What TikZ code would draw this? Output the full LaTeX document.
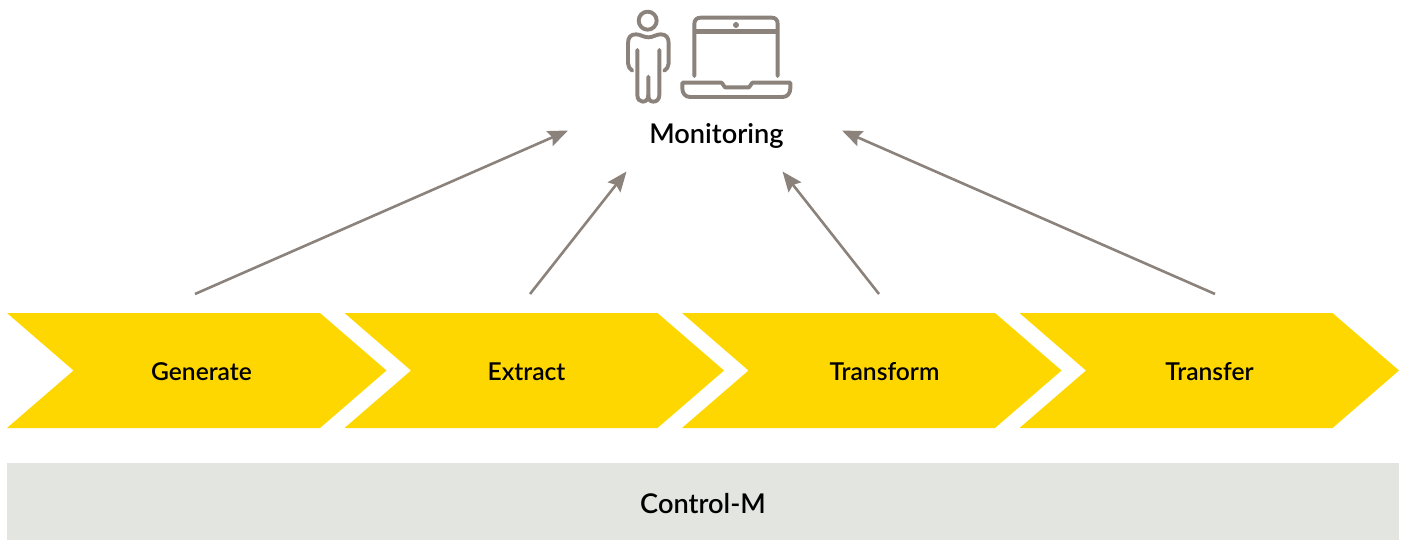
\documentclass[tikz,border=0pt]{standalone}
\usepackage{fontspec}
\setmainfont{Lato Semibold}
\usetikzlibrary{arrows.meta}
\definecolor{cyellow}{HTML}{FFD700}
\definecolor{cgrey}{HTML}{E3E5E0}
\definecolor{cline}{HTML}{8B827B}
\tikzset{
  chev/.style={fill=cyellow,draw=none},
  lab/.style={font=\fontsize{24.6}{28}\selectfont,text=black,inner sep=0pt},
  mainlab/.style={font=\fontsize{27.2}{31}\selectfont,text=black,inner sep=0pt},
  conn/.style={draw=cline,line width=2.6pt,-{Stealth[length=20pt,width=16pt,inset=3pt]}},
  icon/.style={draw=cline,line width=3.9pt,line cap=round,line join=round},
}
\begin{document}
\begin{tikzpicture}[x=1pt,y=-1pt]
\useasboundingbox (0,0) rectangle (1405,540);
% band
\fill[cgrey] (7,463) rectangle (1399,540);
\node[mainlab] (ctrl) at (703,503.5) {Control-M};
% chevrons
\foreach \n/\dx/\t/\tx in {gen/0/Generate/201.5,ext/337.5/Extract/526.5,tra/675/Transform/884.5,trf/1012.5/Transfer/1209.5}{
  \fill[chev] ({7+\dx},313) -- ({320+\dx},313) -- ({386.5+\dx},370.5) -- ({320+\dx},428) -- ({7+\dx},428) -- ({73.5+\dx},370.5) -- cycle;
  \node[lab] (\n) at (\tx,371.5) {\t};
}
% connector ends
\coordinate (s1) at (195,294);
\coordinate (e1) at (568,130.5);
\coordinate (s2) at (530,294);
\coordinate (e2) at (626.5,171.5);
\coordinate (s3) at (879,294);
\coordinate (e3) at (782.5,171.5);
\coordinate (s4) at (1215,294);
\coordinate (e4) at (842,130.5);
\draw[conn] (s1) -- (e1);
\draw[conn] (s2) -- (e2);
\draw[conn] (s3) -- (e3);
\draw[conn] (s4) -- (e4);
\node[mainlab] (mon) at (716.5,136) {Monitoring};
% icons
\begin{scope}[shift={(600,0)},x=0.3333pt,y=-0.3333pt]
  % person
  \draw[icon] (143,62) circle (27);
  \draw[icon] (112,150) -- (112,285) .. controls (112,298) and (120,305) .. (128,305) .. controls (138,305) and (145,298) .. (145,285) -- (145,230);
  \draw[icon] (178,150) -- (178,285) .. controls (178,298) and (170,305) .. (160,305) .. controls (150,305) and (145,298) .. (145,285);
  \draw[icon] (97,212) .. controls (90,208) and (84,200) .. (84,190) -- (84,130) .. controls (84,112) and (92,103) .. (108,103) .. controls (122,103) and (130,112) .. (145,112) .. controls (160,112) and (168,103) .. (182,103) .. controls (198,103) and (206,112) .. (206,130) -- (206,190) .. controls (206,200) and (200,208) .. (193,212);
  % laptop
  \draw[icon] (283,228) -- (283,72) .. controls (283,60) and (290,53) .. (302,53) -- (515,53) .. controls (527,53) and (533,60) .. (533,72) -- (533,228);
  \draw[icon,line width=5pt,line cap=butt] (283,96) -- (533,96);
  \fill[cline] (408,75) circle (9);
  \draw[icon] (247,248) -- (365,248) -- (375,262) -- (447,262) -- (457,248) -- (571,248) -- (571,265) .. controls (571,280) and (562,291) .. (548,291) -- (270,291) .. controls (256,291) and (247,280) .. (247,265) -- cycle;
\end{scope}
\end{tikzpicture}
\end{document}
